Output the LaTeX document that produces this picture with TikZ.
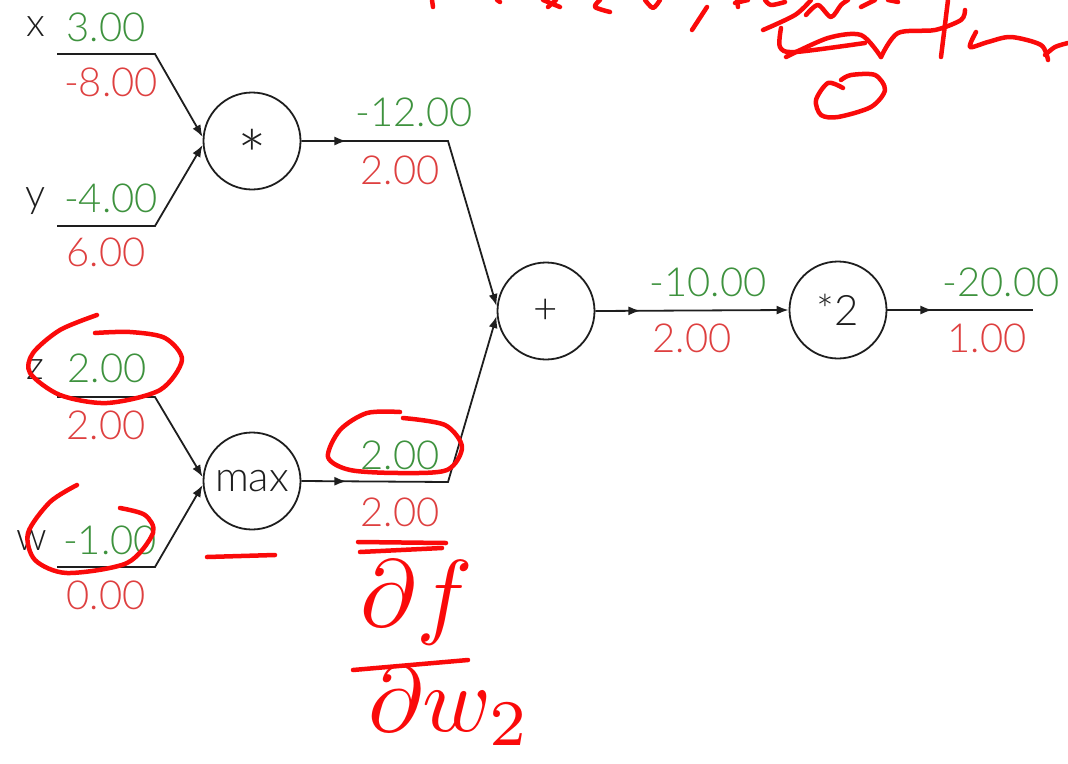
\documentclass[tikz,border=0pt]{standalone}
\usepackage{fontspec}
\setmainfont{Lato Light}
\usepackage{tikz}
\usetikzlibrary{arrows.meta,decorations.markings}

\definecolor{fwdgreen}{RGB}{62,146,62}
\definecolor{gradred}{RGB}{222,64,64}
\definecolor{inkred}{RGB}{250,10,10}
\definecolor{wiregray}{RGB}{30,30,30}

\begin{document}
\begin{tikzpicture}[x=1pt, y=-1pt,
    main/.style = {draw=wiregray, circle, line width=1.8pt, minimum size=97pt, inner sep=0pt, font=\fontsize{42}{50}\selectfont, text=wiregray},
    varname/.style = {text=wiregray, font=\fontsize{40}{48}\selectfont},
    fwd/.style = {text=fwdgreen, font=\fontsize{40}{48}\selectfont},
    grad/.style = {text=gradred, font=\fontsize{40}{48}\selectfont},
    wire/.style = {draw=wiregray, line width=1.8pt},
    midarrow/.style = {postaction={decorate}, decoration={markings, mark=at position 45pt with {\arrow{Latex[length=12pt,width=9pt]}}}},
    ink/.style = {draw=inkred, line width=4.5pt, line cap=round, line join=round}]
    \useasboundingbox (0,0) rectangle (1068,763);

    % gates
    \node[main] (mul) at (252,141) {\fontsize{70}{72}\selectfont\smash{\raisebox{-40pt}{*}}};
    \node[main] (max) at (252,481) {max};
    \node[main] (add) at (546,311) {+};
    \node[main] (dbl) at (838,310) {*2};

    % wire corners
    \coordinate (xs) at (57,54);   \coordinate (xb) at (155,54);
    \coordinate (ys) at (57,226);  \coordinate (yb) at (155,226);
    \coordinate (zs) at (57,397);  \coordinate (zb) at (155,397);
    \coordinate (ws) at (57,567);  \coordinate (wb) at (155,567);
    \coordinate (mulb) at (448,141);
    \coordinate (maxb) at (448,482);
    \coordinate (out) at (1033,310);

    % inputs
    \draw[wire, -{Latex[length=12pt,width=9pt]}] (xs) -- (xb) -- ([yshift=4pt]mul.west);
    \draw[wire, -{Latex[length=12pt,width=9pt]}] (ys) -- (yb) -- ([yshift=-4pt]mul.west);
    \draw[wire, -{Latex[length=12pt,width=9pt]}] (zs) -- (zb) -- ([yshift=4pt]max.west);
    \draw[wire, -{Latex[length=12pt,width=9pt]}] (ws) -- (wb) -- ([yshift=-4pt]max.west);

    % inner wires
    \path[wire, midarrow, -{Latex[length=12pt,width=9pt]}] (mul.east) -- (mulb) -- ([yshift=5pt]add.west);
    \path[wire, midarrow, -{Latex[length=12pt,width=9pt]}] (max.east) -- (maxb) -- ([yshift=-5pt]add.west);
    \path[wire, midarrow, -{Latex[length=12pt,width=9pt]}] (add.east) -- (dbl.west);
    \path[wire, midarrow] (dbl.east) -- (out);

    % names and values
    \node[varname] (xn) at (36,27) {x};
    \node[fwd] (xv) at (106,27) {3.00};
    \node[grad] (xg) at (111,82) {-8.00};
    \node[varname] (yn) at (36,201) {y};
    \node[fwd] (yv) at (111,198) {-4.00};
    \node[grad] (yg) at (106,252) {6.00};
    \node[varname] (zn) at (35,370) {z};
    \node[fwd] (zv) at (107,368) {2.00};
    \node[grad] (zg) at (106,425) {2.00};
    \node[varname] (wn) at (32,540) {w};
    \node[fwd] (wv) at (110,540) {-1.00};
    \node[grad] (wg) at (106,595) {0.00};
    \node[fwd] (mulv) at (414,112) {-12.00};
    \node[grad] (mulg) at (400,170) {2.00};
    \node[fwd] (maxv) at (400,455) {2.00};
    \node[grad] (maxg) at (400,512) {2.00};
    \node[fwd] (addv) at (708,282) {-10.00};
    \node[grad] (addg) at (692,338) {2.00};
    \node[fwd] (dblv) at (1001,282) {-20.00};
    \node[grad] (dblg) at (987,338) {1.00};

    % handwritten marks
    \draw[ink] plot[smooth] coordinates {(97,315) (60,330) (33,353) (30,373) (60,395) (107,403) (160,390) (182,360) (165,338) (130,332) (95,333)};
    \draw[ink] plot[smooth] coordinates {(77,485) (50,502) (28,533) (35,560) (67,573) (127,563) (153,533) (145,515) (120,508)};
    \draw[ink] plot[smooth] coordinates {(400,412) (367,413) (340,430) (328,457) (350,470) (400,473) (447,470) (462,447) (445,425) (403,418)};
    \draw[ink] (207,557) -- (275,555);
    \draw[ink] (358,542) -- (446,543);
    \draw[ink] (360,552) -- (442,548);
    \node[text=inkred, scale=9.5] (pf) at (417,603) {$\partial f$};
    \draw[ink] (353,670) -- (468,660);
    \node[text=inkred, scale=9.3] (pw) at (450,706) {$\partial w_2$};

    % scribble at the top
    \draw[ink] (432,0) -- (433,7);
    \draw[ink] (497,0) -- (500,2);
    \draw[ink] (543,0) -- (560,7);
    \draw[ink] (548,7) -- (556,0);
    \draw[ink] plot[smooth] coordinates {(600,0) (595,7) (610,12)};
    \draw[ink] plot[smooth] coordinates {(645,0) (653,8) (660,0)};
    \draw[ink] (707,7) -- (692,30);
    \draw[ink] (737,0) -- (738,7);
    \draw[ink] (735,3) -- (748,0);
    \draw[ink] plot[smooth] coordinates {(765,0) (771,5) (785,2)};
    \draw[ink] plot[smooth] coordinates {(763,30) (795,15) (811,0)};
    \draw[ink] plot[smooth] coordinates {(806,15) (818,5) (831,17) (841,5) (848,0)};
    \draw[ink] (861,7) -- (875,0);
    \draw[ink] (888,0) -- (898,2);
    \draw[ink] plot[smooth] coordinates {(781,28) (780,47) (795,52) (865,43)};
    \draw[ink] plot[smooth] coordinates {(786,57) (828,38) (861,35) (881,57)};
    \draw[ink] plot[smooth] coordinates {(881,57) (898,33) (935,30) (961,20) (965,10)};
    \draw[ink] (948,0) -- (941,57);
    \draw[ink] plot[smooth] coordinates {(976,32) (970,47) (988,42) (1011,37) (1041,45) (1048,60)};
    \draw[ink] plot[smooth] coordinates {(1045,55) (1055,47) (1068,43)};
    \draw[ink] plot[smooth] coordinates {(843,88) (828,83) (816,100) (821,115) (838,117) (871,107) (885,90) (875,75) (851,75) (841,80)};
\end{tikzpicture}
\end{document}
